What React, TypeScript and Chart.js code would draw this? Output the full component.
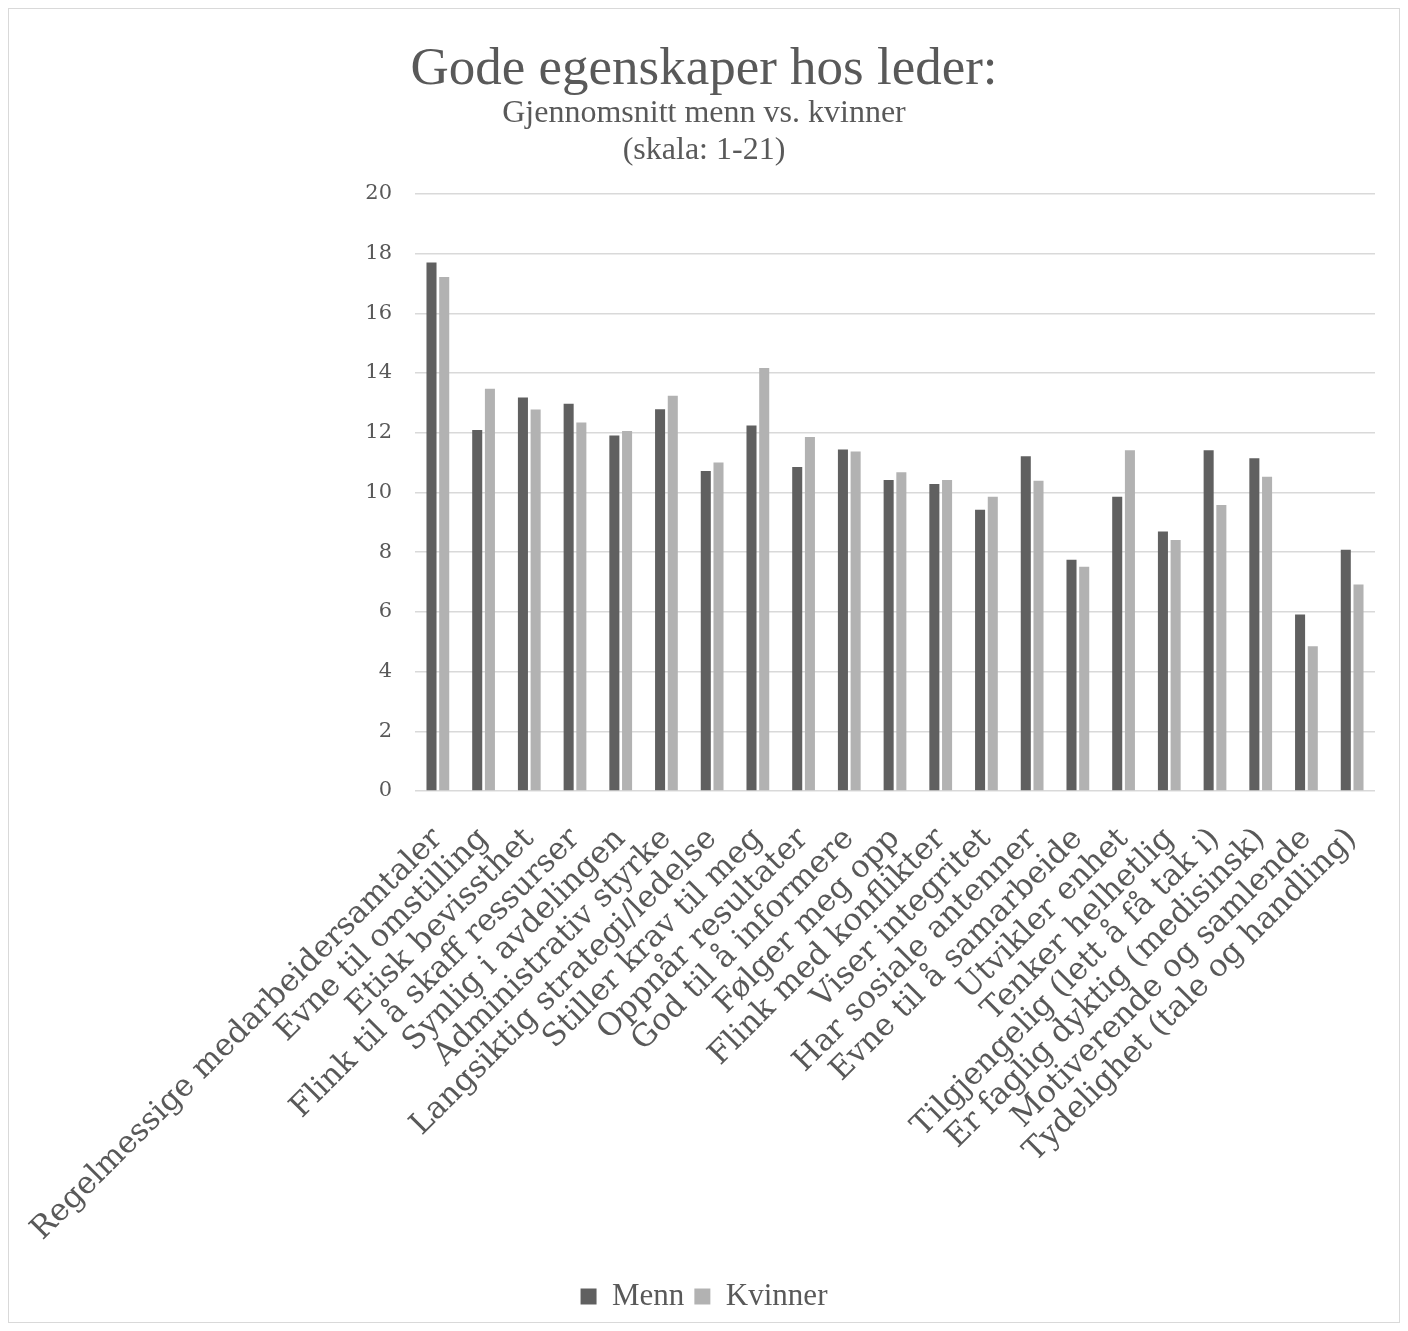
import React, { useEffect, useRef } from 'react';
import { Chart, registerables } from 'chart.js';

Chart.register(...registerables);

// Egenskaper (kategorier langs x-aksen)
const categories = [
  'Regelmessige medarbeidersamtaler',
  'Evne til omstilling',
  'Etisk bevissthet',
  'Flink til å skaff ressurser',
  'Synlig i avdelingen',
  'Administrativ styrke',
  'Langsiktig strategi/ledelse',
  'Stiller krav til meg',
  'Oppnår resultater',
  'God til å informere',
  'Følger meg opp',
  'Flink med konflikter',
  'Viser integritet',
  'Har sosiale antenner',
  'Evne til å samarbeide',
  'Utvikler enhet',
  'Tenker helhetlig',
  'Tilgjengelig (lett å få tak i)',
  'Er faglig dyktig (medisinsk)',
  'Motiverende og samlende',
  'Tydelighet (tale og handling)',
];

// Gjennomsnitt per egenskap
const menn = [17.7, 12.09, 13.18, 12.97, 11.91, 12.79, 10.72, 12.24, 10.85, 11.44, 10.42, 10.28, 9.42, 11.21, 7.75, 9.86, 8.69, 11.41, 11.15, 5.91, 8.08];
const kvinner = [17.22, 13.47, 12.78, 12.34, 12.06, 13.24, 11.0, 14.17, 11.86, 11.37, 10.68, 10.42, 9.86, 10.39, 7.51, 11.41, 8.41, 9.58, 10.53, 4.85, 6.92];

const seriesNames = ['Menn', 'Kvinner'];
const titleText = 'Gode egenskaper hos leder:';
const subtitleLines = ['Gjennomsnitt menn vs. kvinner', '(skala: 1-21)'];

// Verdiakse
const yMin = 0;
const yMax = 20;
const yStep = 2;

const TEXT = '#595959';
const GRID = '#d9d9d9';
const DARK = '#606060';
const LIGHT = '#b2b2b2';

export default function App() {
  const canvasRef = useRef<HTMLCanvasElement | null>(null);

  useEffect(() => {
    const canvas = canvasRef.current;
    if (!canvas) return;
    const chart = new Chart(canvas, {
      type: 'bar',
      data: {
        labels: categories,
        datasets: [
          {
            label: seriesNames[0],
            data: menn,
            backgroundColor: DARK,
            borderWidth: 0,
            categoryPercentage: 0.556,
            barPercentage: 0.79,
          },
          {
            label: seriesNames[1],
            data: kvinner,
            backgroundColor: LIGHT,
            borderWidth: 0,
            categoryPercentage: 0.556,
            barPercentage: 0.79,
          },
        ],
      },
      options: {
        responsive: false,
        animation: false,
        devicePixelRatio: 1,
        layout: { padding: { top: 0, right: 24, bottom: 0, left: 24 } },
        plugins: {
          title: {
            display: true,
            text: titleText,
            color: TEXT,
            font: { family: '"Liberation Serif", serif', size: 53, weight: 'normal', lineHeight: 0.8 },
            padding: { top: 40, bottom: 0 },
          },
          subtitle: {
            display: true,
            text: subtitleLines,
            color: TEXT,
            font: { family: '"Liberation Serif", serif', size: 32, weight: 'normal', lineHeight: 1.18 },
            padding: { top: 3, bottom: 24 },
          },
          legend: {
            display: true,
            position: 'bottom',
            labels: {
              color: TEXT,
              boxWidth: 16,
              boxHeight: 16,
              padding: 10,
              font: { family: '"Liberation Serif", serif', size: 31 },
            },
          },
          tooltip: { enabled: false },
        },
        scales: {
          x: {
            grid: { display: false, drawTicks: false },
            border: { display: false },
            ticks: {
              autoSkip: false,
              minRotation: 45,
              maxRotation: 45,
              padding: 30,
              color: TEXT,
              font: { family: '"DejaVu Serif", serif', size: 31 },
            },
            afterFit: (scale: any) => {
              scale.height = 480;
              scale.paddingLeft = 0;
              scale.paddingRight = 0;
            },
          },
          y: {
            min: yMin,
            max: yMax,
            grid: { color: GRID, lineWidth: 1.5, drawTicks: false },
            border: { display: false },
            ticks: {
              stepSize: yStep,
              padding: 23,
              color: TEXT,
              font: { family: '"DejaVu Serif", serif', size: 21 },
            },
            afterFit: (scale: any) => {
              scale.width = 382;
            },
          },
        },
      },
    });
    return () => chart.destroy();
  }, []);

  return (
    <div style={{ width: 1390, height: 1313, border: `1px solid ${GRID}`, background: '#fff' }}>
      <canvas ref={canvasRef} width={1390} height={1313} style={{ display: 'block' }} />
    </div>
  );
}
